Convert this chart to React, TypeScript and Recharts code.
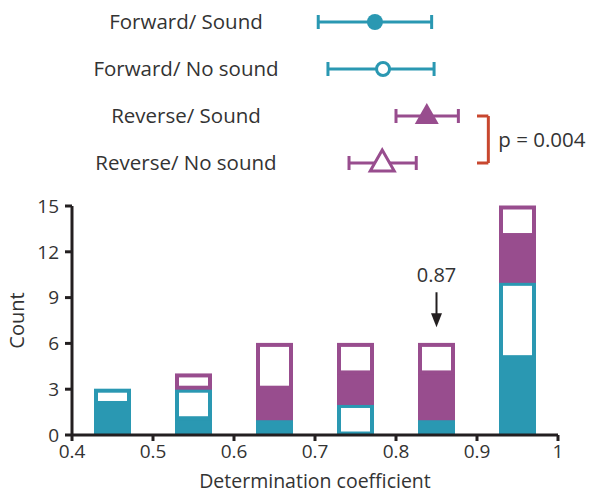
import React from 'react';
import {
  ScatterChart,
  Scatter,
  ErrorBar,
  BarChart,
  Bar,
  XAxis,
  YAxis,
  ReferenceLine
} from 'recharts';

const TEAL = '#2a98b2';
const PURPLE = '#984d8e';
const RED = '#c8472f';
const INK = '#231f20';
const FONT = '"Open Sans", sans-serif';

// top panel: mean and range per condition
const groups = ['Forward/ Sound', 'Forward/ No sound', 'Reverse/ Sound', 'Reverse/ No sound'];
const means = [0.774, 0.784, 0.838, 0.783];
const lows = [0.704, 0.716, 0.8, 0.742];
const highs = [0.844, 0.847, 0.877, 0.825];

// histogram bins (centres) and counts per condition
const binCenters = [0.45, 0.55, 0.65, 0.75, 0.85, 0.95];
const fwdSound = [2, 1, 1, 0, 1, 5];
const fwdNoSound = [1, 2, 0, 2, 0, 5];
const revSound = [0, 0, 2, 2, 3, 3];
const revNoSound = [0, 1, 3, 2, 2, 2];

const xTicks = [0.4, 0.5, 0.6, 0.7, 0.8, 0.9, 1];
const yTicks = [0, 3, 6, 9, 12, 15];

const histData = binCenters.map((x, i) => ({
  x,
  fwdSound: fwdSound[i],
  fwdNoSound: fwdNoSound[i],
  revSound: revSound[i],
  revNoSound: revNoSound[i]
}));

const pointData = (i: number) => [
  { x: means[i], y: i + 1, err: [means[i] - lows[i], highs[i] - means[i]] }
];

const FilledCircle = (p: any) => <circle cx={p.cx} cy={p.cy} r={8} fill={TEAL} />;
const OpenCircle = (p: any) => (
  <circle cx={p.cx} cy={p.cy} r={6.5} fill="#fff" stroke={TEAL} strokeWidth={3} />
);
const tri = (cx: number, cy: number) =>
  `${cx},${cy - 13} ${cx - 12},${cy + 8} ${cx + 12},${cy + 8}`;
const FilledTriangle = (p: any) => <polygon points={tri(p.cx, p.cy)} fill={PURPLE} />;
const OpenTriangle = (p: any) => (
  <polygon points={tri(p.cx, p.cy)} fill="#fff" stroke={PURPLE} strokeWidth={3} />
);
const shapes = [FilledCircle, OpenCircle, FilledTriangle, OpenTriangle];
const colorsTop = [TEAL, TEAL, PURPLE, PURPLE];

const GroupTick = (p: any) => (
  <text x={186} y={p.y} dy="0.35em" textAnchor="middle" fontSize={20.5} fontFamily={FONT} fill="#333">
    {groups[p.payload.value - 1]}
  </text>
);

const filledBar = (color: string) => (props: any) => {
  const { x, y, width, height } = props;
  if (!height || height <= 0) return null;
  return <rect x={x} y={y - 0.5} width={width} height={height + 1} fill={color} />;
};

const openBar = (color: string) => (props: any) => {
  const { x, y, width, height } = props;
  if (!height || height <= 0) return null;
  const t = 4;
  return (
    <rect x={x + t / 2} y={y + t / 2 - 0.5} width={width - t} height={height - t + 1}
      fill="#fff" stroke={color} strokeWidth={t} />
  );
};

const DownArrow = (p: any) => {
  const top = Math.min(p.y1, p.y2);
  const bot = Math.max(p.y1, p.y2);
  return (
    <g>
      <line x1={p.x1} y1={top} x2={p.x1} y2={bot - 10} stroke={INK} strokeWidth={2} />
      <polygon points={`${p.x1 - 5.5},${bot - 14} ${p.x1 + 5.5},${bot - 14} ${p.x1},${bot}`} fill={INK} />
    </g>
  );
};

const tickStyle = { fontSize: 19, fontFamily: FONT, fill: '#333' };

export default function App() {
  return (
    <div style={{ position: 'absolute', left: 0, top: 0, width: 600, height: 493, background: '#fff' }}>
      <ScatterChart width={600} height={190} margin={{ top: 22, right: 42, bottom: 27, left: 0 }}>
        <XAxis type="number" dataKey="x" domain={[0.4, 1]} hide />
        <YAxis type="number" dataKey="y" domain={[1, 4]} ticks={[1, 2, 3, 4]} reversed
          width={72} axisLine={false} tickLine={false} tick={<GroupTick />} />
        {groups.map((g, i) => (
          <Scatter key={g} name={g} data={pointData(i)} shape={shapes[i]} isAnimationActive={false}>
            <ErrorBar dataKey="err" direction="x" width={7} stroke={colorsTop[i]} strokeWidth={3} />
          </Scatter>
        ))}
        <ReferenceLine segment={[{ x: 0.914, y: 3 }, { x: 0.914, y: 4 }]} stroke={RED} strokeWidth={3}
          label={{ value: 'p = 0.004', position: 'right', offset: 10, fontSize: 20.5, fontFamily: FONT, fill: '#333' }} />
        <ReferenceLine segment={[{ x: 0.9, y: 3 }, { x: 0.914, y: 3 }]} stroke={RED} strokeWidth={3} />
        <ReferenceLine segment={[{ x: 0.9, y: 4 }, { x: 0.914, y: 4 }]} stroke={RED} strokeWidth={3} />
      </ScatterChart>
      <BarChart width={600} height={303} data={histData} barSize={37}
        margin={{ top: 16, right: 42, bottom: 0, left: 0 }}>
        <XAxis type="number" dataKey="x" domain={[0.4, 1]} ticks={xTicks} height={58}
          tickFormatter={(v: number) => String(v)}
          axisLine={{ stroke: INK, strokeWidth: 3 }} tickLine={{ stroke: INK, strokeWidth: 3 }}
          tickSize={6} tickMargin={4} tick={tickStyle}
          label={{ value: 'Determination coefficient', position: 'insideBottom', offset: 5,
            fontSize: 19.5, fontFamily: FONT, fill: '#333' }} />
        <YAxis type="number" domain={[0, 15]} ticks={yTicks} width={72}
          axisLine={{ stroke: INK, strokeWidth: 3 }} tickLine={{ stroke: INK, strokeWidth: 3 }}
          tickSize={7} tickMargin={6} tick={tickStyle}
          label={{ value: 'Count', angle: -90, position: 'insideLeft', offset: 17,
            style: { textAnchor: 'middle' }, fontSize: 20, fontFamily: FONT, fill: '#333' }} />
        <Bar dataKey="fwdSound" stackId="a" fill={TEAL} shape={filledBar(TEAL)} isAnimationActive={false} />
        <Bar dataKey="fwdNoSound" stackId="a" fill="#fff" shape={openBar(TEAL)} isAnimationActive={false} />
        <Bar dataKey="revSound" stackId="a" fill={PURPLE} shape={filledBar(PURPLE)} isAnimationActive={false} />
        <Bar dataKey="revNoSound" stackId="a" fill="#fff" shape={openBar(PURPLE)} isAnimationActive={false} />
        <ReferenceLine segment={[{ x: 0.85, y: 9.35 }, { x: 0.85, y: 7.05 }]} shape={DownArrow}
          label={{ value: '0.87', position: 'top', offset: 10, fontSize: 20, fontFamily: FONT, fill: '#333' }} />
      </BarChart>
    </div>
  );
}
